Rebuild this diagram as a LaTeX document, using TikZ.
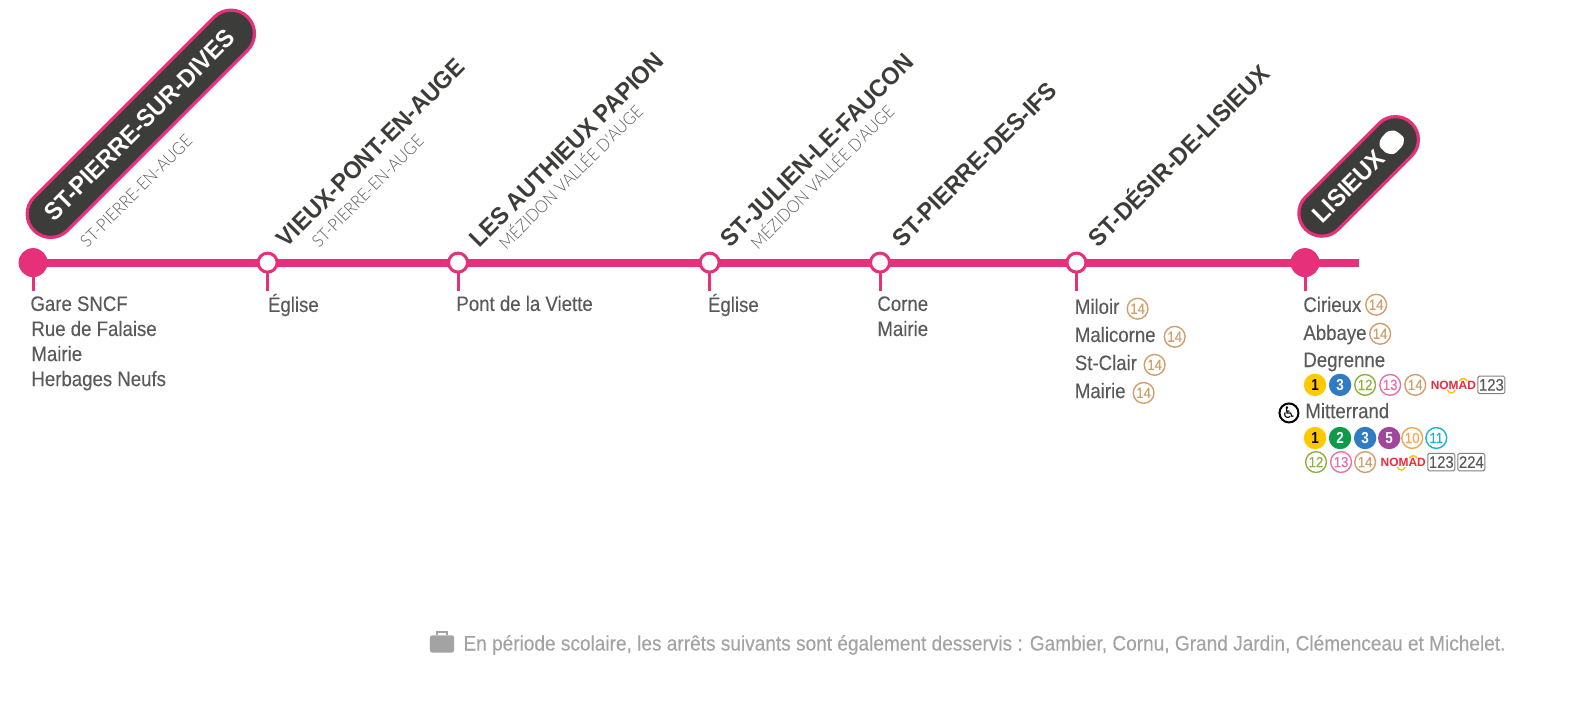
\documentclass[tikz,border=0pt]{standalone}
\usepackage{fontspec}
\usetikzlibrary{shapes.misc}
\setmainfont{Liberation Sans}
\newfontfamily\cond[FakeStretch=0.89,FakeBold=0.2]{Liberation Sans}
\newfontfamily\footf[FakeStretch=0.911,FakeBold=0.2]{Liberation Sans}
\newfontfamily\condb[FakeStretch=0.84]{Liberation Sans Bold}
\newfontfamily\cityf[FakeStretch=0.95]{Liberation Sans Bold}
\newfontfamily\pillf[FakeStretch=0.945]{Liberation Sans Bold}
\newfontfamily\subf[FakeStretch=0.93]{Lato Light}
\newfontfamily\sym{DejaVu Sans}
\definecolor{pinkline}{HTML}{E6307A}
\definecolor{darkpill}{HTML}{3C3C3A}
\definecolor{txt}{HTML}{5A5A5A}
\definecolor{foot}{HTML}{A3A3A3}
\definecolor{cA}{HTML}{FFC800}
\definecolor{cB}{HTML}{0E9A48}
\definecolor{cC}{HTML}{2F7CC4}
\definecolor{cE}{HTML}{A0479B}
\definecolor{cJ}{HTML}{F2A654}
\definecolor{cK}{HTML}{1BB3D2}
\definecolor{cL}{HTML}{8DB03C}
\definecolor{cM}{HTML}{EE6FA6}
\definecolor{cN}{HTML}{D09F6C}
\definecolor{nored}{HTML}{EE2A3C}
\definecolor{noyel}{HTML}{F6C400}
\tikzset{
  x=0.50115bp,y=-0.50115bp,
  line/.style={draw=pinkline,line width=4bp},
  tick/.style={draw=pinkline,line width=1.5bp},
  bigstop/.style={circle,fill=pinkline,draw=pinkline,line width=.5bp,inner sep=0,outer sep=0,minimum size=14bp},
  smallstop/.style={circle,fill=white,draw=pinkline,line width=1.5bp,inner sep=0,outer sep=0,minimum size=9.5bp},
  pill/.style={rounded rectangle,draw=pinkline,fill=darkpill,line width=1.6bp,inner sep=0,text=white,rotate=45,font=\fontsize{12.4}{14}\pillf},
  city/.style={rotate=45,anchor=base west,inner sep=0,text=darkpill,font=\fontsize{12.2}{14}\cityf},
  subcity/.style={rotate=45,anchor=base west,inner sep=0,text=txt,font=\fontsize{8.6}{10}\subf},
  stoplabel/.style={anchor=base west,inner sep=0,yshift=.4bp,text=txt,font=\fontsize{10.5}{12}\cond},
  filled/.style={circle,inner sep=0,minimum size=11.2bp,fill=#1,text=white,font=\fontsize{8}{9}\condb},
  ring/.style={circle,inner sep=0,minimum size=10.4bp,draw=#1,line width=.7bp,fill=white,text=#1,font=\fontsize{7.4}{8}\cond},
  nomad/.style={inner sep=0,text=nored,font=\fontsize{6}{7}\bfseries},
  noarc/.style={draw=noyel,line width=.7bp},
  busbox/.style={draw=gray,rounded corners=.8pt,line width=.5bp,inner sep=0,minimum height=8.8bp,minimum width=13.5bp,text=txt,font=\fontsize{8.4}{9}\cond},
}
\begin{document}
\begin{tikzpicture}
\useasboundingbox (0,0) rectangle (1568.4,716.3);
% stops
\node[bigstop] (s1) at (33,262) {};
\node[smallstop] (s2) at (267,262) {};
\node[smallstop] (s3) at (457,262) {};
\node[smallstop] (s4) at (708,262) {};
\node[smallstop] (s5) at (878,262) {};
\node[smallstop] (s6) at (1074,262) {};
\node[bigstop] (s7) at (1302,262) {};
\coordinate (lend) at (1356,262);
\draw[line] (s1)--(s2) (s2)--(s3) (s3)--(s4) (s4)--(s5) (s5)--(s6) (s6)--(s7) (s7)--(lend);
\foreach \n/\x in {s1/33,s2/267,s3/457,s4/708,s5/878,s6/1074,s7/1302}{
  \coordinate (t\n) at (\x,290);
  \draw[tick] (\n)--(t\n);
}
% pills
\node[pill,minimum width=151bp,minimum height=23.5bp] (p1) at (140.5,123.5) {\hspace{-2pt}ST-PIERRE-SUR-DIVES};
\node[pill,minimum width=75bp,minimum height=23bp] (p2) at (1355.5,176) {\hspace{-14pt}LISIEUX};
\fill[white,rounded corners=1.2pt] (1384,131)--(1392,130)--(1401,137)--(1400,145)--(1391,154)--(1383,153)--(1376,146)--(1377,139)--cycle;
% city names
\node[city] (c2) at (286,248) {VIEUX-PONT-EN-AUGE};
\node[city] (c3) at (478,248) {LES AUTHIEUX PAPION};
\node[city] (c4) at (729,248) {ST-JULIEN-LE-FAUCON};
\node[city] (c5) at (900,248) {ST-PIERRE-DES-IFS};
\node[city] (c6) at (1096,248) {ST-DÉSIR-DE-LISIEUX};
\node[subcity] (u1) at (87,248) {ST-PIERRE-EN-AUGE};
\node[subcity] (u2) at (318,248) {ST-PIERRE-EN-AUGE};
\node[subcity] (u3) at (505,250) {MÉZIDON VALLÉE D'AUGE};
\node[subcity] (u4) at (756,250) {MÉZIDON VALLÉE D'AUGE};
% stop labels
\node[stoplabel] (a1) at (30,311) {Gare SNCF};
\node[stoplabel] (a2) at (31,336) {Rue de Falaise};
\node[stoplabel] (a3) at (31,361) {Mairie};
\node[stoplabel] (a4) at (31,386) {Herbages Neufs};
\node[stoplabel] (b1) at (267,312) {Église};
\node[stoplabel] (d1) at (455,311) {Pont de la Viette};
\node[stoplabel] (e1) at (706,312) {Église};
\node[stoplabel] (f1) at (875,311) {Corne};
\node[stoplabel] (f2) at (875,336) {Mairie};
\node[stoplabel] (g1) at (1072,314) {Miloir};
\node[stoplabel] (g2) at (1072,342) {Malicorne};
\node[stoplabel] (g3) at (1072,370) {St-Clair};
\node[stoplabel] (g4) at (1072,398) {Mairie};
\node[stoplabel] (h1) at (1300,312) {Cirieux};
\node[stoplabel] (h2) at (1300,340) {Abbaye};
\node[stoplabel] (h3) at (1300,367) {Degrenne};
\node[stoplabel] (h4) at (1302,418) {Mitterrand};
\node[circle,draw=black,line width=1bp,inner sep=0,minimum size=9.5bp,font=\fontsize{8}{9}\sym] (w) at (1286,412) {♿};
% badges
\node[ring=cN] (r1) at (1135,308) {14};
\node[ring=cN] (r2) at (1172,336) {14};
\node[ring=cN] (r3) at (1152,364) {14};
\node[ring=cN] (r4) at (1141,392) {14};
\node[ring=cN] (r5) at (1373,304) {14};
\node[ring=cN] (r6) at (1377,333) {14};
\node[filled=cA,text=black] (l1) at (1312,384) {1};
\node[filled=cC] (l2) at (1337,384) {3};
\node[ring=cL] (l3) at (1362,384) {12};
\node[ring=cM] (l4) at (1387,384) {13};
\node[ring=cN] (l5) at (1412,384) {14};
\node[nomad] (l6) at (1450,384) {NOMAD};
\draw[noarc] (1444,389) .. controls (1446,393) and (1450,393) .. (1452,389);
\draw[noarc] (1456,380) .. controls (1458,377) and (1462,377) .. (1464,380);
\node[busbox] (l7) at (1488,384) {123};
\node[filled=cA,text=black] (m1) at (1312,437) {1};
\node[filled=cB] (m2) at (1337,437) {2};
\node[filled=cC] (m3) at (1362,437) {3};
\node[filled=cE] (m4) at (1386,437) {5};
\node[ring=cJ] (m5) at (1409,437) {10};
\node[ring=cK] (m6) at (1433,437) {11};
\node[ring=cL] (n1) at (1313,461) {12};
\node[ring=cM] (n2) at (1338,461) {13};
\node[ring=cN] (n3) at (1362,461) {14};
\node[nomad] (n4) at (1400,461) {NOMAD};
\draw[noarc] (1394,466) .. controls (1396,470) and (1400,470) .. (1402,466);
\draw[noarc] (1406,457) .. controls (1408,454) and (1412,454) .. (1414,457);
\node[busbox] (n5) at (1438,461) {123};
\node[busbox] (n6) at (1468,461) {224};
% footer
\fill[foot,rounded corners=1pt] (429,634) rectangle (453,651);
\draw[foot,line width=1bp] (436,634)--(436,631)--(446,631)--(446,634);
\node[anchor=base west,inner sep=0,text=foot,font=\fontsize{10.5}{12}\footf] (note) at (462,649) {En période scolaire, les arrêts suivants sont également desservis : Gambier, Cornu, Grand Jardin, Clémenceau et Michelet.};
\end{tikzpicture}
\end{document}
